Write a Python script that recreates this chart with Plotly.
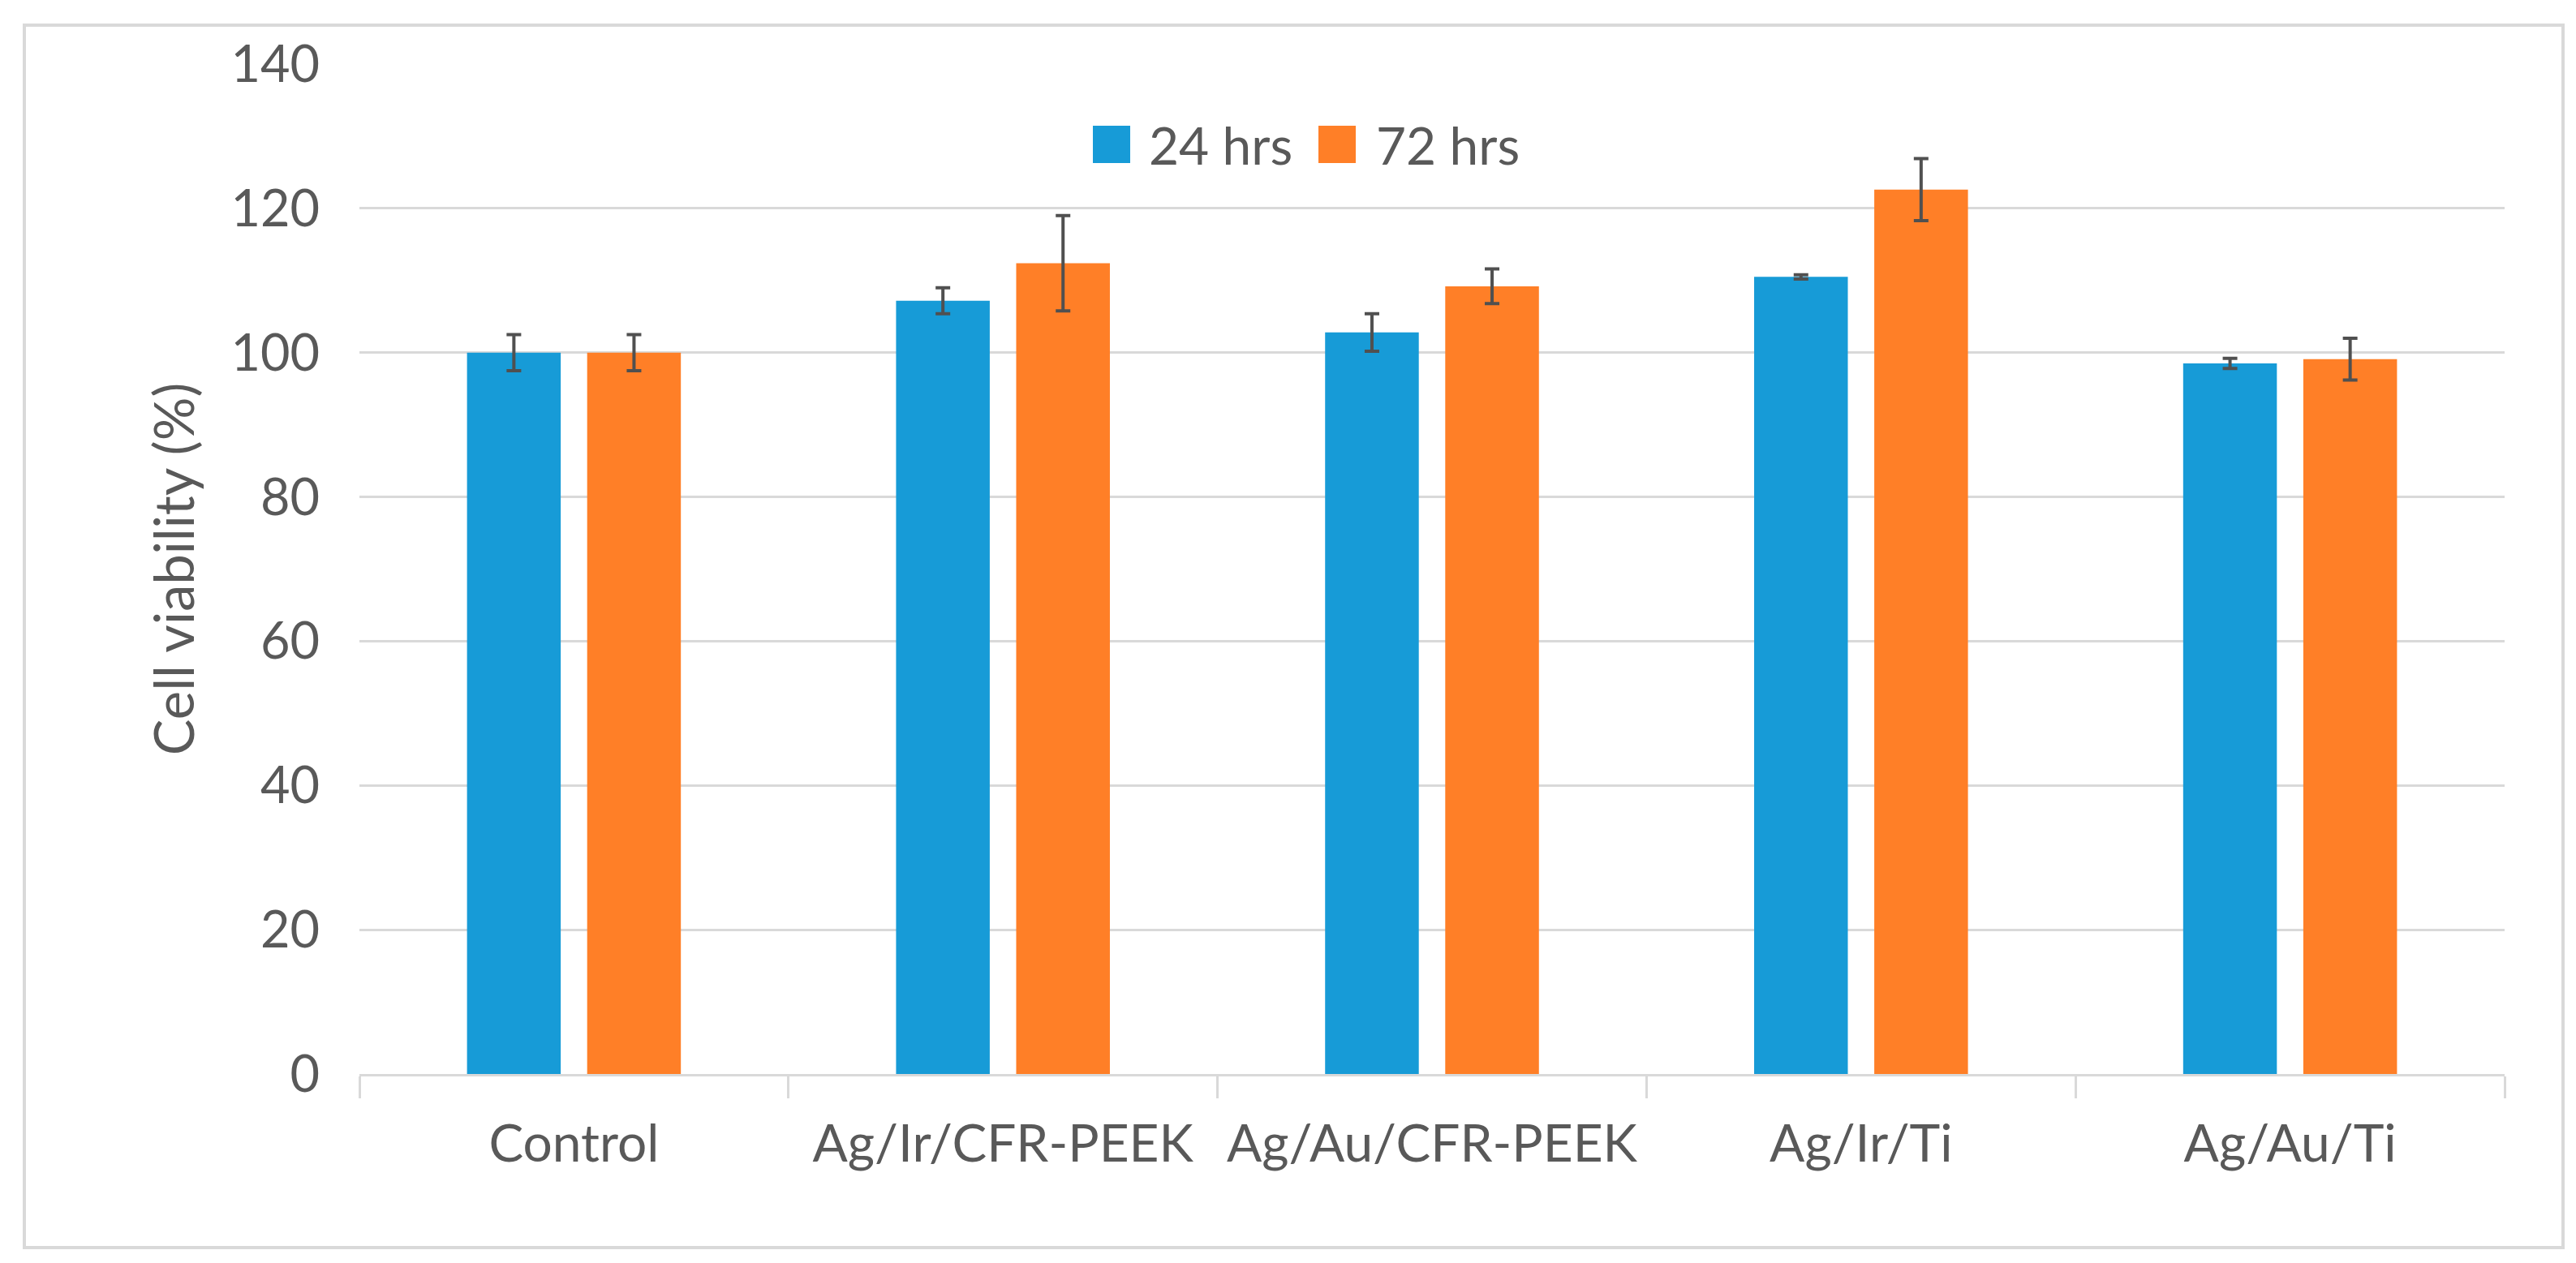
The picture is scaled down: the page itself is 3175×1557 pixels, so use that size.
import plotly.graph_objects as go

categories = ["Control", "Ag/Ir/CFR-PEEK", "Ag/Au/CFR-PEEK", "Ag/Ir/Ti", "Ag/Au/Ti"]
series_names = ["24 hrs", "72 hrs"]
values_24 = [100.0, 107.2, 102.8, 110.5, 98.5]
errors_24 = [2.5, 1.8, 2.6, 0.3, 0.7]
values_72 = [100.0, 112.4, 109.2, 122.6, 99.1]
errors_72 = [2.5, 6.6, 2.4, 4.3, 2.9]
y_ticks = [0, 20, 40, 60, 80, 100, 120, 140]
colors = ["#179BD7", "#FF7F27"]

W, H = 3175, 1557
L, R, T, B = 435, 96, 71, 241
pw, ph = W - L - R, H - T - B

def px_to_paper_x(px):
    return (px - L) / pw

def px_to_paper_y(py):
    return (H - B - py) / ph

FONT = "Lato"
TXT = "#595959"
GRID = "#d9d9d9"

fig = go.Figure()
for name, vals, errs, col in zip(series_names, [values_24, values_72], [errors_24, errors_72], colors):
    fig.add_trace(go.Bar(
        name=name, x=categories, y=vals,
        marker=dict(color=col, line=dict(width=0)),
        error_y=dict(type="data", array=errs, visible=True,
                     color="#505050", thickness=4, width=9),
        showlegend=False,
    ))

fig.update_layout(
    width=W, height=H,
    margin=dict(l=L, r=R, t=T, b=B),
    paper_bgcolor="white", plot_bgcolor="white",
    barmode="group", bargap=0.44, bargroupgap=0.22,
    font=dict(family=FONT, color=TXT, size=62),
    showlegend=False,
)
fig.update_yaxes(
    range=[0, 140], tickvals=y_ticks, showgrid=True, gridcolor=GRID, gridwidth=3,
    zeroline=False, showline=False, ticks="", ticklabelstandoff=48,
    tickfont=dict(size=63, color=TXT, family=FONT),
    title=dict(text="Cell viability (%)", font=dict(size=67, color=TXT, family=FONT), standoff=22),
)
fig.update_xaxes(
    showline=True, linecolor=GRID, linewidth=3, ticks="outside", tickson="boundaries",
    ticklen=27, tickcolor=GRID, tickwidth=3, ticklabelstandoff=28,
    tickfont=dict(size=64, color=TXT, family=FONT), showgrid=False,
)
# outer chart border
fig.add_shape(type="rect", xref="paper", yref="paper",
              x0=px_to_paper_x(22), x1=px_to_paper_x(3151),
              y0=px_to_paper_y(1530), y1=px_to_paper_y(23),
              line=dict(color=GRID, width=4), fillcolor="rgba(0,0,0,0)", layer="below")

# legend (large square keys, drawn manually)
legend_keys = [(1339, 1412), (1617, 1692)]
key_size = 46
legend_cy = 170
for (kx, tx), name, col in zip(legend_keys, series_names, colors):
    fig.add_shape(type="rect", xref="paper", yref="paper",
                  x0=px_to_paper_x(kx), x1=px_to_paper_x(kx + key_size),
                  y0=px_to_paper_y(legend_cy + key_size / 2), y1=px_to_paper_y(legend_cy - key_size / 2),
                  line=dict(width=0), fillcolor=col)
    fig.add_annotation(text=name, xref="paper", yref="paper",
                       x=px_to_paper_x(tx - 6), y=px_to_paper_y(legend_cy),
                       xanchor="left", yanchor="middle", showarrow=False,
                       font=dict(size=64, color=TXT, family=FONT))
fig.write_html("out.html")
